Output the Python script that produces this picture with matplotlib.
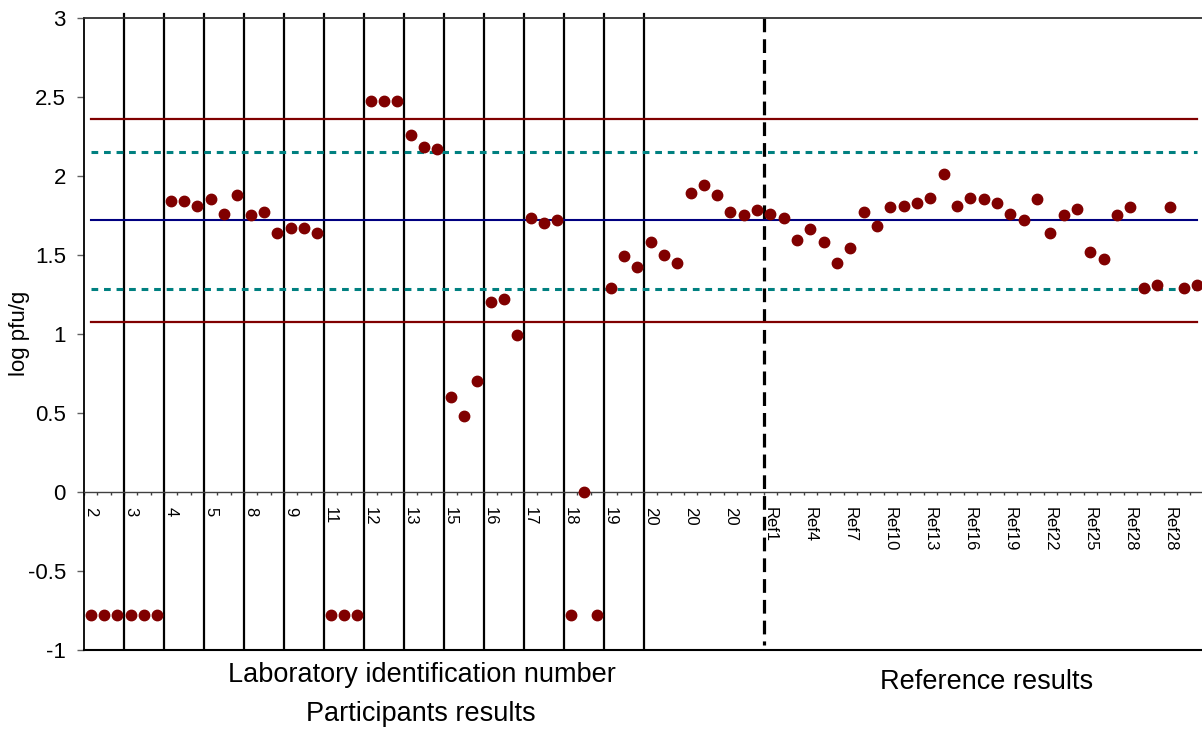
import numpy as np
import matplotlib.pyplot as plt

plt.rcParams['font.family'] = ['Liberation Sans', 'DejaVu Sans']

# tick labels, one every third result
tick_labels = ['2', '3', '4', '5', '8', '9', '11', '12', '13', '15', '16', '17',
               '18', '19', '20', '20', '20',
               'Ref1', 'Ref4', 'Ref7', 'Ref10', 'Ref13', 'Ref16', 'Ref19',
               'Ref22', 'Ref25', 'Ref28', 'Ref28']

# participants results (log pfu/g), three per lab
participants = [-0.78, -0.78, -0.78, -0.78, -0.78, -0.78,
                1.84, 1.84, 1.81, 1.85, 1.76, 1.88,
                1.75, 1.77, 1.64, 1.67, 1.67, 1.64,
                -0.78, -0.78, -0.78, 2.47, 2.47, 2.47,
                2.26, 2.18, 2.17, 0.60, 0.48, 0.70,
                1.20, 1.22, 0.99, 1.73, 1.70, 1.72,
                -0.78, 0.00, -0.78, 1.29, 1.49, 1.42,
                1.58, 1.50, 1.45, 1.89, 1.94, 1.88,
                1.77, 1.75, 1.78]

# reference results
reference = [1.76, 1.73, 1.59, 1.66, 1.58, 1.45, 1.54, 1.77, 1.68, 1.80,
             1.81, 1.83, 1.86, 2.01, 1.81, 1.86, 1.85, 1.83, 1.76, 1.72,
             1.85, 1.64, 1.75, 1.79, 1.52, 1.47, 1.75, 1.80, 1.29, 1.31,
             1.80, 1.29, 1.31]

mean_value = 1.72
inner_limits = [1.285, 2.148]
outer_limits = [1.073, 2.355]

values = participants + reference
x = np.arange(len(values))
n_part = len(participants)

fig = plt.figure(figsize=(12.02, 7.33), dpi=100)
ax = fig.add_axes([84 / 1202, 1 - 650 / 733, 1119.7 / 1202, 632.5 / 733])

ax.set_xlim(-0.5, len(values) - 0.5)
ax.set_ylim(-1, 3)

# lab separators
for b in np.arange(3, 43, 3) - 0.5:
    ax.plot([b, b], [3.025, -0.99], color='black', lw=1.6, clip_on=False, zorder=2)
ax.plot([n_part - 0.5] * 2, [3.0, -0.97], color='black', lw=2.3,
        linestyle=(0, (4.3, 2.2)), clip_on=False, zorder=2)

# limits
for v in outer_limits:
    ax.plot([x[0], x[-1]], [v, v], color='#800000', lw=1.6, zorder=3)
for v in inner_limits:
    ax.plot([x[0], x[-1]], [v, v], color='#008080', lw=2.2,
            linestyle=(0, (2.2, 1.9)), zorder=3)
ax.plot([x[0], x[-1]], [mean_value] * 2, color='#000080', lw=1.5, zorder=3)

ax.plot(x, values, 'o', color='#800000', ms=7.5, zorder=5, clip_on=False)

# axes look
ax.spines['bottom'].set_position(('data', 0))
ax.spines['bottom'].set_color('#404040')
ax.spines['bottom'].set_linewidth(1.0)
ax.spines['right'].set_visible(False)
ax.spines['top'].set_color('#303030')
ax.spines['top'].set_linewidth(1.3)
ax.spines['left'].set_linewidth(1.3)
ax.axhline(-1, color='black', lw=1.5, clip_on=False, zorder=4)

ax.set_yticks(np.arange(-1, 3.01, 0.5))
ax.set_yticklabels(['-1', '-0.5', '0', '0.5', '1', '1.5', '2', '2.5', '3'])
ax.tick_params(axis='y', direction='out', length=5, width=1, color='#606060',
               labelsize=16, pad=8)

ax.set_xticks(x[::3])
ax.set_xticklabels(tick_labels, rotation=-90, fontsize=12)
ax.set_xticks(np.arange(-0.5, len(values), 1), minor=True)
ax.tick_params(axis='x', which='major', length=0, pad=11)
ax.tick_params(axis='x', which='minor', direction='out', length=2.5,
               width=1, color='#404040')

fig.text(20 / 1202, 1 - 333 / 733, 'log pfu/g', rotation=90, ha='center',
         va='center', fontsize=16)
fig.text(421.5 / 1202, 1 - 681.5 / 733, 'Laboratory identification number',
         ha='center', va='baseline', fontsize=19.5)
fig.text(421 / 1202, 1 - 721 / 733, 'Participants results',
         ha='center', va='baseline', fontsize=19.5)
fig.text(987 / 1202, 1 - 689 / 733, 'Reference results',
         ha='center', va='baseline', fontsize=19.5)

fig.savefig('out.png', dpi=100)
